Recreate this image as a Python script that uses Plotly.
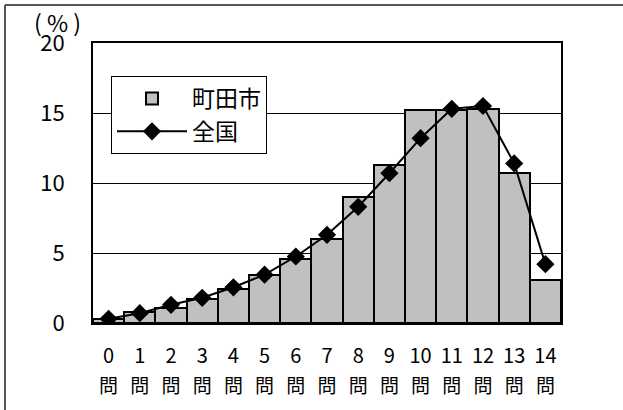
import plotly.graph_objects as go

categories = ["0", "1", "2", "3", "4", "5", "6", "7", "8", "9", "10", "11", "12", "13", "14"]
unit_labels = ["問"] * len(categories)
machida = [0.3, 0.8, 1.1, 1.7, 2.4, 3.4, 4.6, 6.0, 9.0, 11.3, 15.2, 15.2, 15.3, 10.7, 3.1]
zenkoku = [0.3, 0.7, 1.3, 1.8, 2.55, 3.45, 4.75, 6.3, 8.3, 10.7, 13.2, 15.3, 15.5, 11.4, 4.2]

FONT = "Noto Sans CJK JP"
W, H = 623, 410
L, R, T, B = 93, 62, 43, 87
pw, ph = W - L - R, H - T - B

def px_x(x):
    return (x - L) / pw

def px_y(y):
    return (H - B - y) / ph

fig = go.Figure()
fig.add_trace(go.Bar(
    x=categories, y=machida, name="町田市",
    marker=dict(color="#C0C0C0", line=dict(color="black", width=2)),
))
fig.add_trace(go.Scatter(
    x=categories, y=zenkoku, name="全国", mode="lines+markers",
    line=dict(color="black", width=2),
    marker=dict(symbol="diamond", size=14, color="black"),
))
# invisible helper trace so the second category axis (unit row "問") has its categories
fig.add_trace(go.Scatter(
    x=categories, y=zenkoku, xaxis="x2", mode="markers",
    marker=dict(opacity=0), showlegend=False, hoverinfo="skip",
))

fig.update_layout(
    width=W, height=H,
    margin=dict(l=L, r=R, t=T, b=B),
    paper_bgcolor="white", plot_bgcolor="white",
    bargap=0,
    font=dict(family=FONT, color="black", size=18),
    showlegend=True,
    legend=dict(
        x=px_x(111), y=px_y(76), xanchor="left", yanchor="top",
        bgcolor="white", bordercolor="black", borderwidth=1,
        font=dict(family=FONT, size=23, color="black"),
        itemwidth=70, tracegroupgap=0,
    ),
    xaxis=dict(
        type="category", categoryarray=categories, range=[-0.5, 14.5],
        showline=True, linecolor="black", linewidth=2, mirror=True,
        ticks="", tickfont=dict(family=FONT, size=20), showgrid=False,
        ticklabelstandoff=14,
    ),
    xaxis2=dict(
        type="category", categoryarray=categories, range=[-0.5, 14.5],
        overlaying="x", side="bottom", anchor="y",
        tickvals=categories, ticktext=unit_labels,
        showline=False, ticks="", showgrid=False,
        tickfont=dict(family=FONT, size=19), ticklabelstandoff=50,
    ),
    yaxis=dict(
        range=[0, 20], tickvals=[0, 5, 10, 15, 20],
        showline=True, linecolor="black", linewidth=2, mirror=True,
        showgrid=True, gridcolor="black", gridwidth=1,
        ticks="", tickfont=dict(family=FONT, size=22), ticklabelstandoff=22,
        zeroline=False,
    ),
    shapes=[
        dict(type="line", xref="paper", yref="paper",
             x0=px_x(5), x1=px_x(W + 5), y0=px_y(5), y1=px_y(5),
             line=dict(color="#555555", width=2), layer="below"),
        dict(type="line", xref="paper", yref="paper",
             x0=px_x(5), x1=px_x(5), y0=px_y(5), y1=px_y(H + 5),
             line=dict(color="#555555", width=2), layer="below"),
    ],
    annotations=[dict(
        text="( % )", xref="paper", yref="paper",
        x=px_x(57), y=px_y(22), xanchor="center", yanchor="middle",
        showarrow=False, font=dict(family=FONT, size=23, color="black"),
    )],
)

fig.write_html(
    "out.html",
    config={"displayModeBar": False},
    post_script="document.body.style.margin='0';document.body.style.overflow='hidden';",
)
